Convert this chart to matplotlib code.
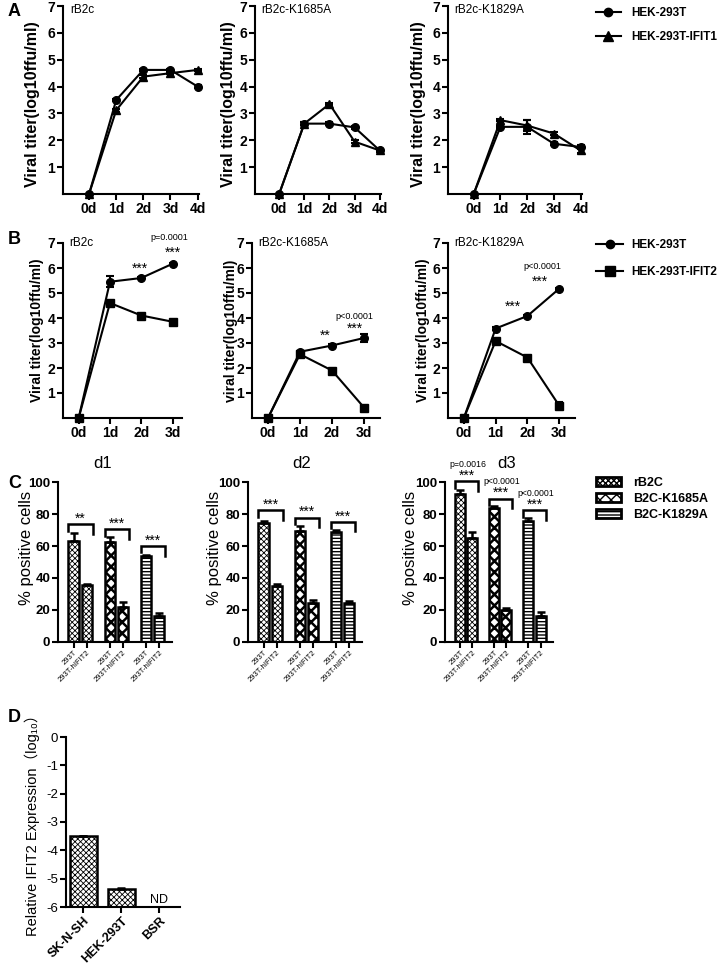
import matplotlib
matplotlib.use('Agg')
import matplotlib.pyplot as plt
from matplotlib.lines import Line2D
from matplotlib.patches import Patch
import numpy as np

plt.rcParams['font.family'] = ['Liberation Sans', 'DejaVu Sans', 'Noto Sans CJK SC']
plt.rcParams['hatch.linewidth'] = 1.0
plt.rcParams['axes.linewidth'] = 1.5

# ---------------- data ----------------
days_A = ['0d', '1d', '2d', '3d', '4d']
A_titles = ['rB2c', 'rB2c-K1685A', 'rB2c-K1829A']
A_hek = [[0, 3.5, 4.62, 4.62, 4.0],
         [0, 2.62, 2.62, 2.48, 1.62],
         [0, 2.5, 2.5, 1.87, 1.75]]
A_hek_err = [[0, 0.05, 0.05, 0.05, 0.05],
             [0, 0.05, 0.05, 0.05, 0.05],
             [0, 0.05, 0.25, 0.05, 0.08]]
A_ifit1 = [[0, 3.12, 4.37, 4.5, 4.62],
           [0, 2.62, 3.35, 1.95, 1.62],
           [0, 2.75, 2.55, 2.25, 1.62]]
A_ifit1_err = [[0, 0.05, 0.05, 0.05, 0.05],
               [0, 0.05, 0.05, 0.05, 0.05],
               [0, 0.05, 0.2, 0.05, 0.1]]

days_B = ['0d', '1d', '2d', '3d']
B_titles = ['rB2c', 'rB2c-K1685A', 'rB2c-K1829A']
B_ylabels = ['Viral titer(log10ffu/ml)', 'viral titer(log10ffu/ml)', 'Viral titer(log10ffu/ml)']
B_hek = [[0, 5.45, 5.6, 6.17],
         [0, 2.65, 2.9, 3.2],
         [0, 3.58, 4.08, 5.17]]
B_hek_err = [[0, 0.22, 0.05, 0.05],
             [0, 0.05, 0.05, 0.15],
             [0, 0.05, 0.05, 0.05]]
B_ifit2 = [[0, 4.6, 4.1, 3.85],
           [0, 2.55, 1.9, 0.42],
           [0, 3.08, 2.42, 0.5]]
B_ifit2_err = [[0, 0.05, 0.05, 0.05],
               [0, 0.05, 0.05, 0.05],
               [0, 0.05, 0.05, 0.15]]
# annotations: (x, y, text)
B_stars = [[(1.95, 5.95, '***'), (3.0, 6.6, '***')],
           [(1.8, 3.3, '**'), (2.7, 3.55, '***')],
           [(1.55, 4.45, '***'), (2.4, 5.45, '***')]]
B_pvals = [[(2.9, 7.2, 'p=0.0001')],
           [(2.7, 4.05, 'p<0.0001')],
           [(2.47, 6.07, 'p<0.0001')]]

C_days = ['d1', 'd2', 'd3']
C_groups = ['rB2C', 'B2C-K1685A', 'B2C-K1829A']
C_cells = ['293T', '293T-hIFIT2']
C_means = [[[63, 35.5], [62.5, 22], [53.5, 16]],
           [[74.5, 35], [69.5, 24.5], [69, 24.5]],
           [[92.5, 65], [84, 20], [75.5, 16.5]]]
C_err = [[[5, 1], [3, 3], [1, 2]],
         [[1, 1.5], [3, 1.5], [1, 1]],
         [[2.5, 4], [1, 1], [2, 2]]]
C_bracket = [[73.5, 70.5, 60], [82.4, 77.8, 75.1], [100.4, 89.6, 82.2]]
C_stars = [['**', '***', '***'], ['***', '***', '***'], ['***', '***', '***']]
C_pvals = [[None, None, None], [None, None, None], ['p=0.0016', 'p<0.0001', 'p<0.0001']]

D_cells = ['SK-N-SH', 'HEK-293T', 'BSR']
D_values = [-3.5, -5.37, np.nan]
D_err = [0.0, 0.04, 0.0]

# ---------------- layout helpers ----------------
W, H = 720, 966
fig = plt.figure(figsize=(W / 100, H / 100), dpi=100)


def add_ax(l, t, r, b):
    return fig.add_axes([l / W, 1 - b / H, (r - l) / W, (b - t) / H])


def ylabel_at(ax, text, px, l, r, yfrac=0.5, **kw):
    ax.set_ylabel(text, va='center', ha='center', **kw)
    ax.yaxis.set_label_coords((px - l) / (r - l), yfrac)


def prism(ax):
    for s in ['top', 'right']:
        ax.spines[s].set_visible(False)
    ax.tick_params(direction='out', width=1.5, length=4, pad=1.5)


# ---------------- panel A ----------------
A_pos = [(63, 6, 199, 194, 33), (255, 6, 381, 194, 229), (448, 6, 582, 194, 419)]
for i, (l, t, r, b, lx) in enumerate(A_pos):
    ax = add_ax(l, t, r, b)
    prism(ax)
    x = np.arange(len(days_A))
    ax.errorbar(x, A_hek[i], yerr=A_hek_err[i], color='k', marker='o', ms=5.5, lw=1.5,
                capsize=3, elinewidth=1.5, capthick=1.5, clip_on=False, zorder=3)
    ax.errorbar(x, A_ifit1[i], yerr=A_ifit1_err[i], color='k', marker='^', ms=6, lw=1.5,
                capsize=3, elinewidth=1.5, capthick=1.5, clip_on=False, zorder=3)
    ax.set_xlim(-0.96, 4.05)
    ax.set_ylim(0, 7)
    ax.set_yticks(range(1, 8))
    ax.set_xticks(x)
    ax.set_xticklabels(days_A)
    for lab in ax.get_xticklabels() + ax.get_yticklabels():
        lab.set_fontweight('bold')
        lab.set_fontsize(10)
    ax.text(0.05, 6.85, A_titles[i], transform=ax.get_yaxis_transform(), fontsize=8.5,
            va='center', ha='left')
    ylabel_at(ax, 'Viral titer(log10ffu/ml)', lx, l, r, yfrac=0.48, fontsize=11.5,
              fontweight='bold')

fig.text(8 / W, 1 - 12 / H, 'A', fontsize=13, fontweight='bold', va='center', ha='left')
hA = [Line2D([0], [0], color='k', marker='o', ms=6, lw=1.5),
      Line2D([0], [0], color='k', marker='^', ms=6.5, lw=1.5)]
fig.legend(hA, ['HEK-293T', 'HEK-293T-IFIT1'], loc='upper left',
           bbox_to_anchor=(596 / W, 1 - 7 / H), frameon=False,
           prop=dict(weight='bold', size=8.5), handlelength=2.1, handletextpad=0.9,
           labelspacing=1.05, borderpad=0, borderaxespad=0)

# ---------------- panel B ----------------
B_pos = [(63, 243, 182, 418, 37, (-0.5, 3.3)),
         (252, 243, 380, 418, 231, (-0.5, 3.5)),
         (448, 243, 575, 418, 423, (-0.5, 3.5))]
for i, (l, t, r, b, lx, xl) in enumerate(B_pos):
    ax = add_ax(l, t, r, b)
    prism(ax)
    x = np.arange(len(days_B))
    ax.errorbar(x, B_hek[i], yerr=B_hek_err[i], color='k', marker='o', ms=5.5, lw=1.5,
                capsize=3, elinewidth=1.5, capthick=1.5, clip_on=False, zorder=3)
    ax.errorbar(x, B_ifit2[i], yerr=B_ifit2_err[i], color='k', marker='s', ms=5.8, lw=1.5,
                capsize=3, elinewidth=1.5, capthick=1.5, clip_on=False, zorder=3)
    ax.set_xlim(*xl)
    ax.set_ylim(0, 7)
    ax.set_yticks(range(1, 8))
    ax.set_xticks(x)
    ax.set_xticklabels(days_B)
    for lab in ax.get_xticklabels() + ax.get_yticklabels():
        lab.set_fontweight('bold')
        lab.set_fontsize(10)
    ax.text(0.05, 7, B_titles[i], transform=ax.get_yaxis_transform(), fontsize=8.5,
            va='center', ha='left')
    for (sx, sy, st) in B_stars[i]:
        ax.text(sx, sy, st, fontsize=10, ha='center', va='center', clip_on=False)
    for (sx, sy, st) in B_pvals[i]:
        ax.text(sx, sy, st, fontsize=6.5, ha='center', va='center', clip_on=False)
    ylabel_at(ax, B_ylabels[i], lx, l, r, fontsize=10, fontweight='bold')

fig.text(8 / W, 1 - 240 / H, 'B', fontsize=13, fontweight='bold', va='center', ha='left')
hB = [Line2D([0], [0], color='k', marker='o', ms=6, lw=1.5),
      Line2D([0], [0], color='k', marker='s', ms=6.5, lw=1.5)]
fig.legend(hB, ['HEK-293T', 'HEK-293T-IFIT2'], loc='upper left',
           bbox_to_anchor=(596 / W, 1 - 239 / H), frameon=False,
           prop=dict(weight='bold', size=8.5), handlelength=2.3, handletextpad=0.7,
           labelspacing=1.3, borderpad=0, borderaxespad=0)

# ---------------- panel C ----------------
hatches = ['xxxxxx', 'xxx', '-----']
hatch_lw = [0.6, 1.8, 1.0]
C_pos = [(58, 482, 172, 642, 27, 103), (248, 482, 362, 642, 215, 302), (445, 482, 553, 642, 410, 507)]
gap = 2.75
bw = 0.8
for d, (l, t, r, b, lx, tx) in enumerate(C_pos):
    ax = add_ax(l, t, r, b)
    prism(ax)
    ticks, labels = [], []
    for g in range(3):
        xs = np.array([g * gap, g * gap + 1])
        with plt.rc_context({'hatch.linewidth': hatch_lw[g]}):
            ax.bar(xs, C_means[d][g], width=bw, color='white', edgecolor='k', lw=1.8,
                   hatch=hatches[g], zorder=2)
        ax.errorbar(xs, C_means[d][g], yerr=[[0, 0], C_err[d][g]], fmt='none', ecolor='k',
                    elinewidth=1.8, capsize=3, capthick=1.8, zorder=3)
        yb = C_bracket[d][g]
        xl_, xr_ = xs[0] - 0.4, xs[1] + 0.45
        ax.plot([xl_, xl_, xr_, xr_], [yb - 4, yb, yb, yb - 6], color='k', lw=1.8,
                clip_on=False, solid_joinstyle='miter')
        ax.text((xl_ + xr_) / 2, yb - 1.0, C_stars[d][g], fontsize=10, ha='center',
                va='bottom', clip_on=False)
        if C_pvals[d][g]:
            ax.text((xl_ + xr_) / 2 + 0.1, yb + 10.5, C_pvals[d][g], fontsize=6.3,
                    ha='center', va='center', clip_on=False)
        ticks += list(xs)
        labels += C_cells
    ax.set_xlim(-1.2, 2 * gap + 1 + 1.0)
    ax.set_ylim(0, 100)
    ax.set_yticks(range(0, 101, 20))
    ax.set_xticks(ticks)
    ax.set_xticklabels(labels, rotation=45, ha='right', rotation_mode='anchor', fontsize=5.5)
    ax.tick_params(axis='x', length=4, pad=1)
    for lab in ax.get_yticklabels():
        lab.set_fontweight('bold')
        lab.set_fontsize(9.5)
    ylabel_at(ax, '% positive cells', lx, l, r, yfrac=0.59, fontsize=12)
    fig.text(tx / W, 1 - 463 / H, C_days[d], fontsize=12, ha='center', va='center')

fig.text(8 / W, 1 - 484 / H, 'C', fontsize=13, fontweight='bold', va='center', ha='left')
hC = []
for g in range(3):
    with plt.rc_context({'hatch.linewidth': hatch_lw[g]}):
        hC.append(Patch(facecolor='white', edgecolor='k', hatch=hatches[g], lw=2))
fig.legend(hC, C_groups, loc='upper left', bbox_to_anchor=(596 / W, 1 - 477 / H),
           frameon=False, prop=dict(weight='bold', size=9), handlelength=2.0,
           handleheight=0.7, handletextpad=1.0, labelspacing=0.32, borderpad=0,
           borderaxespad=0)

# ---------------- panel D ----------------
l, t, r, b = 66, 737, 180, 907
ax = add_ax(l, t, r, b)
prism(ax)
xd = np.arange(len(D_cells))
vals = np.array(D_values)
with plt.rc_context({'hatch.linewidth': 0.6}):
    ax.bar(xd, vals + 6, bottom=-6, width=0.7, color='white', edgecolor='k', lw=1.8,
           hatch='xxxxxx', zorder=2)
ax.errorbar(xd, vals, yerr=[[0, 0, 0], D_err], fmt='none', ecolor='k', elinewidth=1.8,
            capsize=3, capthick=1.8, zorder=3)
ax.text(2, -5.75, 'ND', fontsize=9, ha='center', va='center')
ax.set_xlim(-0.46, 2.54)
ax.set_ylim(-6, 0)
ax.set_yticks(range(-6, 1))
ax.set_yticklabels([str(v) for v in range(-6, 1)], fontsize=9.5)
ax.set_xticks(xd)
ax.set_xticklabels(D_cells, rotation=45, ha='right', rotation_mode='anchor',
                   fontsize=9, fontweight='bold')
ylabel_at(ax, 'Relative IFIT2 Expression（log₁₀）', 32, l, r, fontsize=10.5)
fig.text(8 / W, 1 - 718 / H, 'D', fontsize=13, fontweight='bold', va='center', ha='left')

fig.savefig('out.png', dpi=100)
